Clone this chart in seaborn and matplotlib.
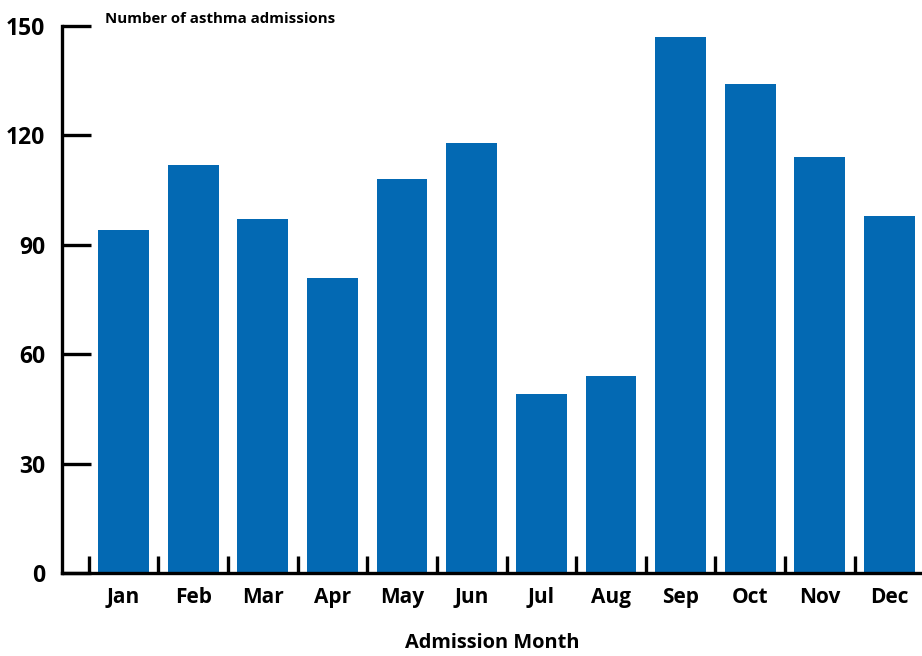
import matplotlib
matplotlib.use("Agg")
import matplotlib.pyplot as plt
import seaborn as sns
import pandas as pd

months = ["Jan", "Feb", "Mar", "Apr", "May", "Jun",
          "Jul", "Aug", "Sep", "Oct", "Nov", "Dec"]
admissions = [94, 112, 97, 81, 108, 118, 49, 54, 147, 134, 114, 98]
y_ticks = [0, 30, 60, 90, 120, 150]

df = pd.DataFrame({"month": months, "admissions": admissions})

sns.set_theme(style="white")
plt.rcParams["font.family"] = ["Open Sans", "DejaVu Sans"]
plt.rcParams["text.color"] = "black"
plt.rcParams["xtick.color"] = "black"
plt.rcParams["ytick.color"] = "black"
plt.rcParams["axes.labelcolor"] = "black"

fig = plt.figure(figsize=(9.22, 6.56), dpi=100)
ax = fig.add_axes([62 / 922, 83 / 656, 860 / 922, 547 / 656])

sns.barplot(data=df, x="month", y="admissions", color="#0369B3",
            saturation=1, width=0.73, linewidth=0, ax=ax)

ax.set_xlim(-0.883, 11.466)
ax.set_ylim(0, 150)

for side in ("top", "right"):
    ax.spines[side].set_visible(False)
for side in ("left", "bottom"):
    ax.spines[side].set_linewidth(2.4)
    ax.spines[side].set_color("black")

ax.set_yticks(y_ticks)
ax.set_yticklabels([str(v) for v in y_ticks], fontsize=16.5, fontweight="bold")
ax.tick_params(axis="y", direction="in", length=21, width=2.4, pad=12,
               left=True)

ax.set_xticks(range(len(months)))
ax.set_xticklabels(months, fontsize=15, fontweight="bold")
ax.tick_params(axis="x", which="major", length=0, pad=10)
ax.set_xticks([i - 0.5 for i in range(len(months))], minor=True)
ax.tick_params(axis="x", which="minor", direction="in", length=12,
               width=2.4, bottom=True)

ax.set_xlabel("Admission Month", fontsize=14.4, fontweight="bold", labelpad=18)
ax.set_ylabel("")
fig.text(105 / 922, 1 - 19 / 656, "Number of asthma admissions",
         fontsize=10.8, fontweight="bold", va="center", ha="left")

fig.savefig("out.png", dpi=100)
